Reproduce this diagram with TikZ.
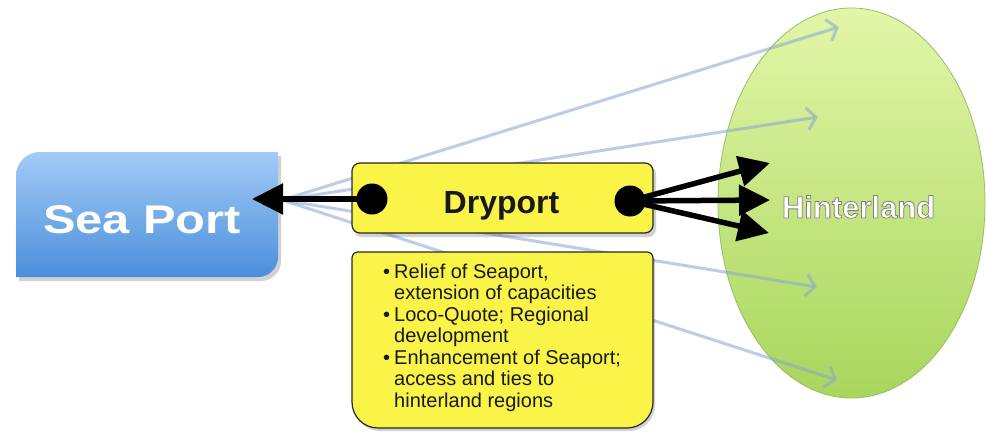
\documentclass[tikz,border=0pt]{standalone}
\usepackage{fontspec}
\setmainfont{Liberation Sans}
\newfontfamily\hlrimfont{Liberation Sans Bold}[FakeBold=2.5]
\usetikzlibrary{arrows.meta,shapes.geometric}
\definecolor{seatop}{RGB}{163,203,247}
\definecolor{seabot}{RGB}{74,143,219}
\definecolor{dryfill}{RGB}{250,243,72}
\definecolor{dryedge}{RGB}{40,40,30}
\definecolor{hltop}{RGB}{226,246,168}
\definecolor{hlbot}{RGB}{168,214,92}
\definecolor{hledge}{RGB}{150,190,100}
\definecolor{flow}{RGB}{137,164,213}
\definecolor{textdark}{RGB}{25,25,25}
\begin{document}
\begin{tikzpicture}[x=1pt,y=-1pt,
  bigarrow/.style={line width=5.5pt, -{Triangle[length=31pt,width=30pt]}},
  flowline/.style={draw=flow, opacity=.55, line width=3pt, -{Straight Barb[length=9pt,width=22pt]}},
  yellowbox/.style={fill=dryfill, draw=dryedge, line width=1.2pt},
  boxshadow/.style={fill=black, opacity=.18},
  joint/.style={circle, fill=black, minimum size=31pt, inner sep=0pt},
]
\useasboundingbox (0,0) rectangle (986,432);
\fill[white] (0,0) rectangle (986,432);

% hinterland region
\node[ellipse, minimum width=267pt, minimum height=390pt, top color=hltop,
      bottom color=hlbot, draw=hledge, line width=.8pt] (hl) at (851.5,203) {};

% faint flows from the sea port into the hinterland
\coordinate (src) at (282,200);
\coordinate (f1) at (839,27);
\coordinate (f2) at (818,117);
\coordinate (f3) at (817,287);
\coordinate (f4) at (837,380);
\foreach \t in {f1,f2,f3,f4} \draw[flowline] (src) -- (\t);

% sea port
\fill[boxshadow, shift={(3,4)}] (16,176) .. controls (16,162.75) and (26.75,152) .. (40,152)
  -- (278,152) -- (278,257) .. controls (278,268) and (269,277) .. (258,277) -- (16,277) -- cycle;
\shade[top color=seatop, bottom color=seabot] (16,176) .. controls (16,162.75) and (26.75,152) .. (40,152)
  -- (278,152) -- (278,257) .. controls (278,268) and (269,277) .. (258,277) -- (16,277) -- cycle;
\node[text=white, font=\bfseries\fontsize{40}{40}\selectfont, anchor=base, inner sep=0pt]
  (sp) at (142,233) {\scalebox{1.22}[1]{Sea Port}};

% dryport
\fill[boxshadow, rounded corners=8pt] (354,166) rectangle (656,237);
\node[yellowbox, rounded corners=8pt, minimum width=301pt, minimum height=70pt] (dry) at (502.5,198) {};
\node[font=\bfseries\fontsize{32}{32}\selectfont, text=textdark, anchor=base, inner sep=0pt]
  (drytext) at (501.5,213) {Dryport};

% functions of the dryport
\fill[boxshadow, shift={(2,3)}] (352,258) -- (352,402) .. controls (352,416.4) and (363.6,428) .. (378,428)
  -- (627,428) .. controls (641.4,428) and (653,416.4) .. (653,402) -- (653,258)
  .. controls (653,254.7) and (650.3,252) .. (647,252) -- (358,252)
  .. controls (354.7,252) and (352,254.7) .. (352,258) -- cycle;
\path[yellowbox] (352,258) -- (352,402) .. controls (352,416.4) and (363.6,428) .. (378,428)
  -- (627,428) .. controls (641.4,428) and (653,416.4) .. (653,402) -- (653,258)
  .. controls (653,254.7) and (650.3,252) .. (647,252) -- (358,252)
  .. controls (354.7,252) and (352,254.7) .. (352,258) -- cycle;
\node[anchor=base west, font=\fontsize{20}{21.5}\selectfont, text=textdark, inner sep=0pt]
  (notes) at (383,278) {\begin{tabular}[t]{@{}l@{\hspace{4pt}}l@{}}
  \textbullet & Relief of Seaport,\\
              & extension of capacities\\
  \textbullet & Loco-Quote; Regional\\
              & development\\
  \textbullet & Enhancement of Seaport;\\
              & access and ties to\\
              & hinterland regions
  \end{tabular}};

% joints and main connections
\node[joint] (jl) at (372,199) {};
\node[joint] (jr) at (630,201) {};
\coordinate (spin) at (252,199);
\coordinate (h1) at (770,163);
\coordinate (h2) at (770,200);
\coordinate (h3) at (769,233);
\draw[bigarrow] (jl.center) -- (spin);
\foreach \t in {h1,h2,h3} \draw[bigarrow] (jr.center) -- (\t);

% hinterland label: white fill, grey stroked rim
\node[anchor=base, inner sep=0pt] (hltext) at (858.5,218)
  {\special{pdf:bcolor [1 1 1] [0.5 0.5 0.5]}\hlrimfont\fontsize{31}{31}\selectfont Hinterland\special{pdf:ecolor}};
\end{tikzpicture}
\end{document}
